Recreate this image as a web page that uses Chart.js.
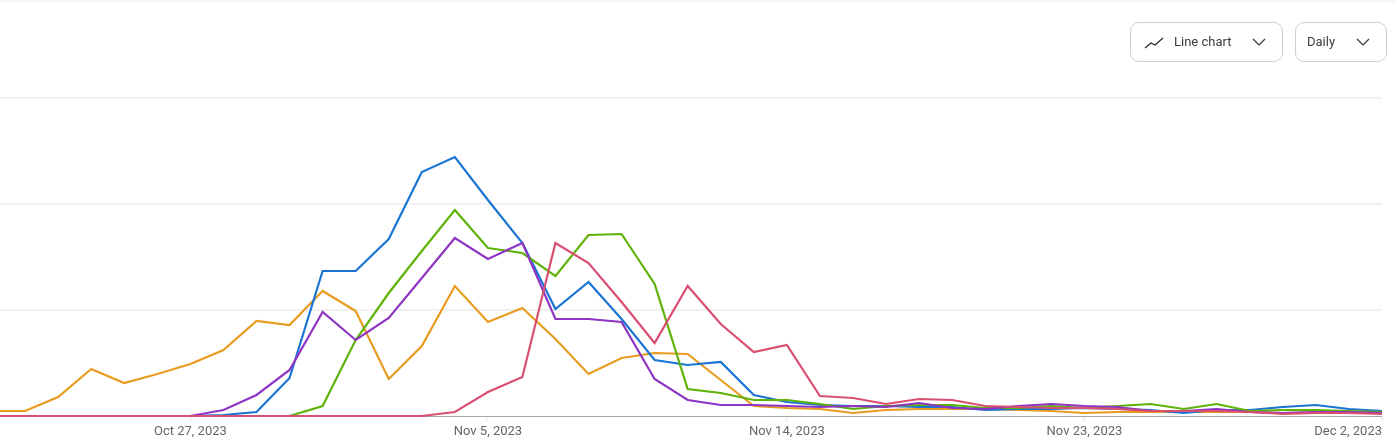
<!DOCTYPE html>
<html>
<head>
<meta charset="utf-8">
<style>
html,body{margin:0;padding:0;background:#fff;width:1396px;height:441px;overflow:hidden;font-family:Roboto,sans-serif}
#wrap{position:relative;width:1396px;height:441px;overflow:hidden}
#wrap:before{content:"";position:absolute;left:0;top:0;width:100%;height:2px;background:#f6f6f6}
canvas{position:absolute;left:-8px;top:0}
.btn{position:absolute;top:22px;height:38px;border:1px solid #cfcfcf;border-radius:9px;background:#fff;color:#3c3c3c;font-size:13px;line-height:38px;box-sizing:content-box}
.btn span{position:absolute;top:0;white-space:nowrap}
.btn svg{position:absolute}
</style>
</head>
<body>
<div id="wrap">
<canvas id="c" width="1404" height="441"></canvas>
<div class="btn" style="left:1130px;width:151px">
<svg style="left:13px;top:13px" width="20" height="14" viewBox="0 0 20 14"><path d="M1 12 L7 7 L11 9 L19 2" fill="none" stroke="#222" stroke-width="1.1"/></svg>
<span style="left:43px">Line chart</span>
<svg style="left:120px;top:14px" width="16" height="10" viewBox="0 0 16 10"><path d="M2 2 L8 8 L14 2" fill="none" stroke="#333" stroke-width="1.2"/></svg>
</div>
<div class="btn" style="left:1295px;width:90px">
<span style="left:11px">Daily</span>
<svg style="left:59px;top:14px" width="16" height="10" viewBox="0 0 16 10"><path d="M2 2 L8 8 L14 2" fill="none" stroke="#333" stroke-width="1.2"/></svg>
</div>
</div>
<script src="https://cdn.jsdelivr.net/npm/chart.js@4"></script>
<script>
const categories = ["Oct 21, 2023","Oct 22, 2023","Oct 23, 2023","Oct 24, 2023","Oct 25, 2023","Oct 26, 2023","Oct 27, 2023","Oct 28, 2023","Oct 29, 2023","Oct 30, 2023","Oct 31, 2023","Nov 1, 2023","Nov 2, 2023","Nov 3, 2023","Nov 4, 2023","Nov 5, 2023","Nov 6, 2023","Nov 7, 2023","Nov 8, 2023","Nov 9, 2023","Nov 10, 2023","Nov 11, 2023","Nov 12, 2023","Nov 13, 2023","Nov 14, 2023","Nov 15, 2023","Nov 16, 2023","Nov 17, 2023","Nov 18, 2023","Nov 19, 2023","Nov 20, 2023","Nov 21, 2023","Nov 22, 2023","Nov 23, 2023","Nov 24, 2023","Nov 25, 2023","Nov 26, 2023","Nov 27, 2023","Nov 28, 2023","Nov 29, 2023","Nov 30, 2023","Dec 1, 2023","Dec 2, 2023"];
const tickLabels = ["Oct 27, 2023","Nov 5, 2023","Nov 14, 2023","Nov 23, 2023","Dec 2, 2023"];
const orange = [5,5,19,47,33,42,52,66,95,91,125,105,37,70,130,94,108,77,42,58,63,62,36,10,8,7,3,6,7,7,7,6,5,3,4,4,4,4,4,3,4,4,4];
const blue = [0,0,0,0,0,0,0,1,4,38,145,145,177,244,259,216,173,107,134,97,56,51,54,21,14,11,10,10,9,9,6,7,7,8,7,6,3,6,6,9,11,7,5];
const green = [0,0,0,0,0,0,0,0,0,0,10,76,123,165,206,168,163,140,181,182,132,27,23,16,16,12,7,10,11,11,8,8,10,8,10,12,7,12,5,6,6,5,4];
const purple = [0,0,0,0,0,0,0,6,21,46,104,76,98,138,178,157,173,97,97,94,37,16,11,11,10,9,10,9,13,8,7,10,12,10,9,5,5,7,4,3,4,4,3];
const pink = [0,0,0,0,0,0,0,0,0,0,0,0,0,0,4,24,39,173,153,114,73,130,92,64,71,20,18,12,17,16,10,9,8,8,7,5,5,5,4,2,3,3,2];
const gridStep = 106;
const axisMax = 318;

// The date axis is a true time axis: the day the clocks change (Nov 5) lasts 25 hours.
const hourOf = name => (Date.parse(name + ' 00:00 GMT') - Date.parse('Oct 21, 2023 00:00 GMT')) / 3600000;
const hours = categories.map(name => hourOf(name) + (hourOf(name) > hourOf('Nov 5, 2023') ? 1 : 0));
const points = values => values.map((v, i) => ({x: hours[i], y: v}));

const ds = (label, data, color) => ({label, data: points(data), borderColor: color, backgroundColor: color, borderWidth: 2.2, pointRadius: 0, tension: 0, clip: 6, borderJoinStyle: 'miter', fill: false});

const alignLastLabel = {
  id: 'alignLastLabel',
  beforeDraw(chart) {
    const items = chart.scales.x.getLabelItems();
    if (items.length) items[items.length - 1].options.textAlign = 'right';
  }
};

new Chart(document.getElementById('c'), {
  type: 'line',
  data: {
    datasets: [
      ds('Series 5', pink, '#d94f72'),
      ds('Series 4', purple, '#8e35c4'),
      ds('Series 3', green, '#5fb208'),
      ds('Series 2', blue, '#1a74d4'),
      ds('Series 1', orange, '#e89b1e')
    ]
  },
  plugins: [alignLastLabel],
  options: {
    responsive: false,
    animation: false,
    parsing: false,
    events: [],
    layout: {padding: {top: 98, right: 14, left: 0, bottom: 0}},
    plugins: {legend: {display: false}, tooltip: {enabled: false}, title: {display: false}},
    scales: {
      x: {
        type: 'linear',
        min: hours[0],
        max: hours[hours.length - 1],
        border: {display: false},
        grid: {drawOnChartArea: false, drawTicks: true, tickLength: 5, tickColor: '#eeeeee', tickWidth: 2},
        ticks: {
          autoSkip: false, maxRotation: 0, minRotation: 0, color: '#666666',
          font: {family: 'Roboto', size: 13}, padding: 3,
          callback: v => categories[hours.indexOf(v)]
        },
        afterBuildTicks(s) { s.ticks = tickLabels.map(name => ({value: hours[categories.indexOf(name)]})); },
        afterFit(s) { s.height = 25; s.paddingLeft = 0; s.paddingRight = 0; }
      },
      y: {
        min: 0,
        max: axisMax,
        border: {display: false},
        grid: {
          drawTicks: false,
          color: c => c.tick.value === 0 ? '#a8a8a8' : '#f1f1f1',
          lineWidth: c => c.tick.value === 0 ? 1 : 2
        },
        ticks: {display: false, stepSize: gridStep},
        afterFit(s) { s.width = 0; }
      }
    }
  }
});
</script>
</body>
</html>
